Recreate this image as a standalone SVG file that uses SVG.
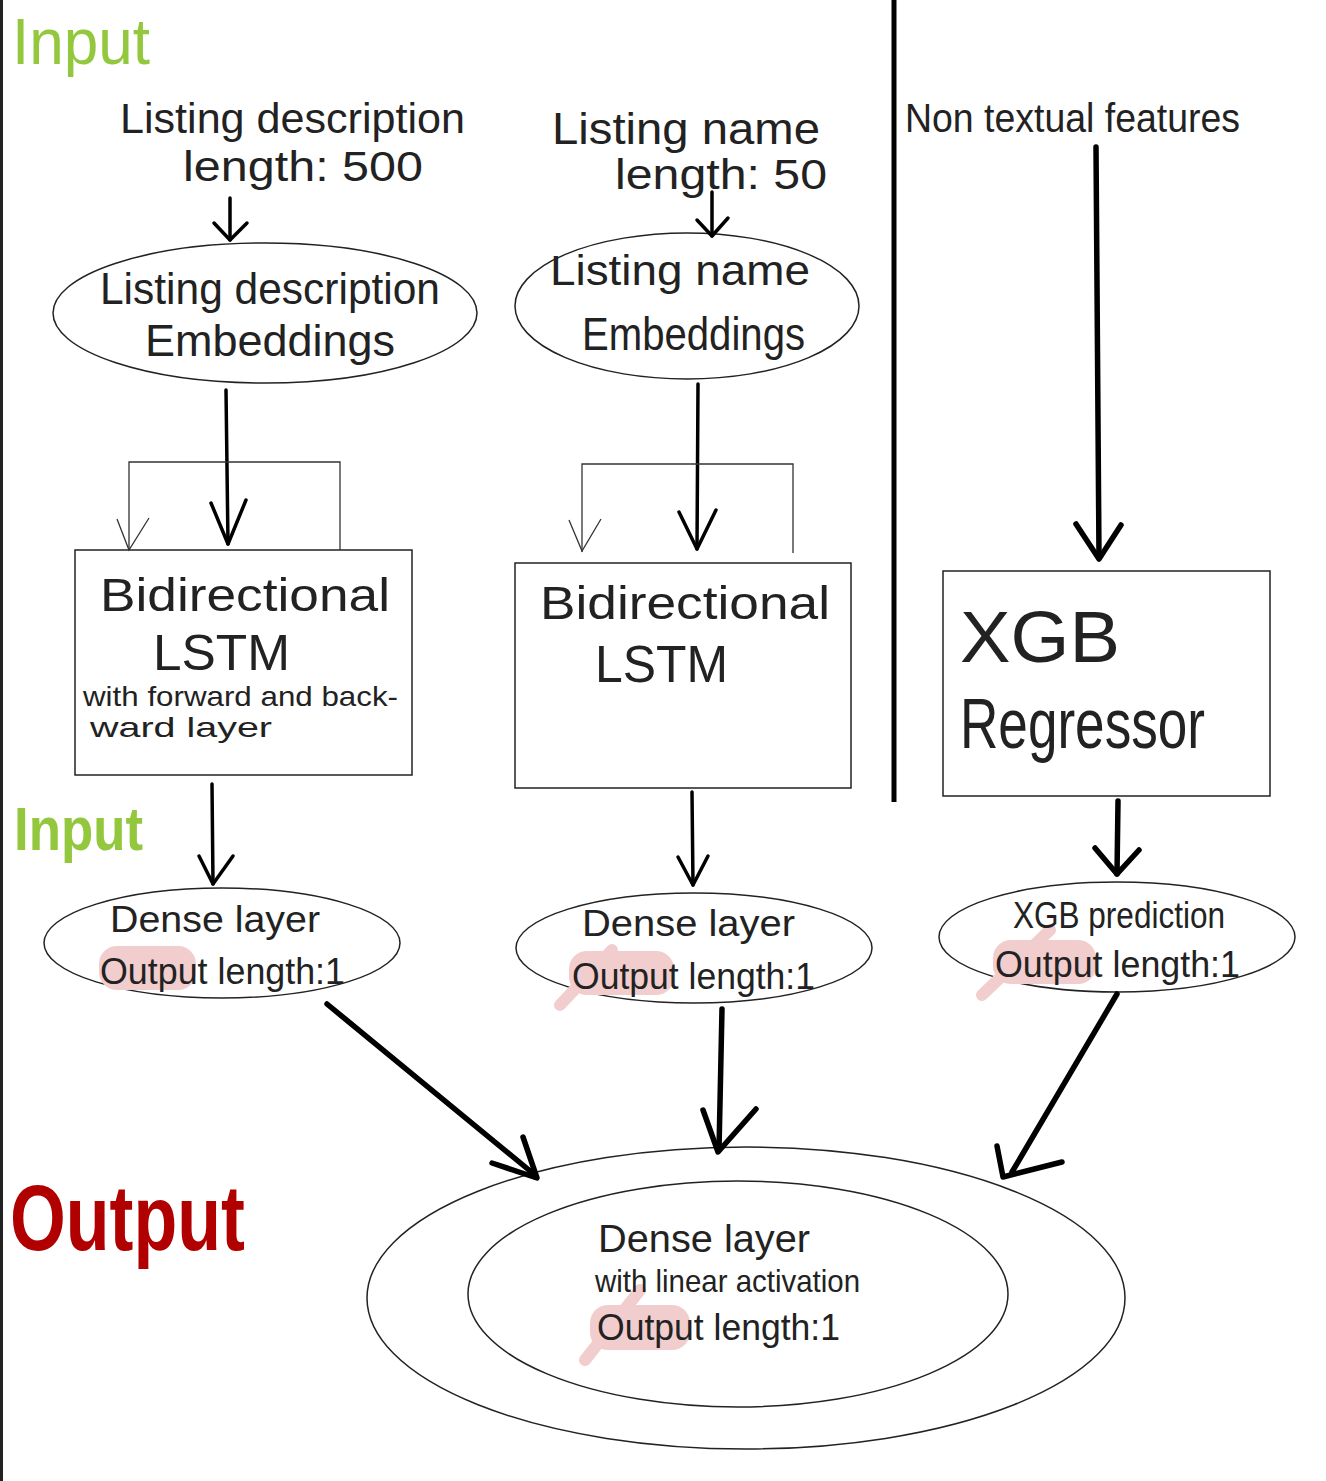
<svg xmlns="http://www.w3.org/2000/svg" width="1326" height="1481" viewBox="0 0 1326 1481">
<style>
.hw{font-family:"Liberation Sans","Noto Sans",sans-serif;fill:#222;text-anchor:start;}
.shape{fill:none;stroke:#222;stroke-width:1.5;}
.thin{fill:none;stroke:#333;stroke-width:1.3;}
.arr{fill:none;stroke:#000;stroke-width:3.5;stroke-linecap:round;stroke-linejoin:round;}
.arrb{fill:none;stroke:#000;stroke-width:5.5;stroke-linecap:round;stroke-linejoin:round;}
.pink{fill:#f2cdcd;}
.pinks{fill:none;stroke:#f2cdcd;stroke-width:12;stroke-linecap:round;}
.green{font-family:"Liberation Sans","Noto Sans",sans-serif;fill:#93c83e;}
</style>
<rect x="0" y="0" width="1326" height="1481" fill="#fff"/>
<rect x="0" y="0" width="3" height="1481" fill="#222"/>
<line x1="894" y1="0" x2="894" y2="802" stroke="#000" stroke-width="5"/>

<g id="label-input-top"><text class="green" x="12" y="64" font-size="64" textLength="138" lengthAdjust="spacingAndGlyphs">Input</text></g>
<g id="label-input-mid"><text class="green" x="14" y="850" font-size="62" font-weight="bold" textLength="129" lengthAdjust="spacingAndGlyphs">Input</text></g>
<g id="label-output"><text x="10" y="1250" font-family="Liberation Sans, sans-serif" font-size="92" font-weight="bold" fill="#b00000" textLength="235" lengthAdjust="spacingAndGlyphs">Output</text></g>

<g id="input-desc">
<text class="hw" x="120" y="133" font-size="42" textLength="345" lengthAdjust="spacingAndGlyphs">Listing description</text>
<text class="hw" x="183" y="181" font-size="42" textLength="240" lengthAdjust="spacingAndGlyphs">length: 500</text>
</g>
<g id="input-name">
<text class="hw" x="552" y="144" font-size="44" textLength="268" lengthAdjust="spacingAndGlyphs">Listing name</text>
<text class="hw" x="615" y="189" font-size="42" textLength="212" lengthAdjust="spacingAndGlyphs">length: 50</text>
</g>
<g id="input-nontext">
<text class="hw" x="905" y="132" font-size="40" textLength="335" lengthAdjust="spacingAndGlyphs">Non textual features</text>
</g>

<g id="emb-desc">
<ellipse class="shape" cx="265" cy="313" rx="212" ry="70"/>
<text class="hw" x="100" y="304" font-size="44" textLength="340" lengthAdjust="spacingAndGlyphs">Listing description</text>
<text class="hw" x="145" y="356" font-size="44" textLength="250" lengthAdjust="spacingAndGlyphs">Embeddings</text>
</g>
<g id="emb-name">
<ellipse class="shape" cx="687" cy="306" rx="172" ry="73"/>
<text class="hw" x="550" y="285" font-size="42" textLength="260" lengthAdjust="spacingAndGlyphs">Listing name</text>
<text class="hw" x="582" y="350" font-size="46" textLength="223" lengthAdjust="spacingAndGlyphs">Embeddings</text>
</g>

<g id="lstm-desc">
<rect class="shape" x="75" y="550" width="337" height="225"/>
<text class="hw" x="100" y="611" font-size="46" textLength="290" lengthAdjust="spacingAndGlyphs">Bidirectional</text>
<text class="hw" x="153" y="670" font-size="50" textLength="137" lengthAdjust="spacingAndGlyphs">LSTM</text>
<text class="hw" x="83" y="706" font-size="28" textLength="315" lengthAdjust="spacingAndGlyphs">with forward and back-</text>
<text class="hw" x="90" y="737" font-size="28" textLength="182" lengthAdjust="spacingAndGlyphs">ward layer</text>
</g>
<g id="lstm-name">
<rect class="shape" x="515" y="563" width="336" height="225"/>
<text class="hw" x="540" y="619" font-size="46" textLength="290" lengthAdjust="spacingAndGlyphs">Bidirectional</text>
<text class="hw" x="595" y="682" font-size="52" textLength="133" lengthAdjust="spacingAndGlyphs">LSTM</text>
</g>
<g id="xgb">
<rect class="shape" x="943" y="571" width="327" height="225"/>
<text class="hw" x="960" y="662" font-size="72" textLength="160" lengthAdjust="spacingAndGlyphs">XGB</text>
<text class="hw" x="960" y="748" font-size="70" textLength="245" lengthAdjust="spacingAndGlyphs">Regressor</text>
</g>

<g id="dense-desc">
<ellipse class="shape" cx="222" cy="943" rx="178" ry="55"/>
<rect class="pink" x="99" y="946" width="97" height="44" rx="18"/>
<text class="hw" x="110" y="932" font-size="36" textLength="210" lengthAdjust="spacingAndGlyphs">Dense layer</text>
<text class="hw" x="100" y="984" font-size="36" textLength="245" lengthAdjust="spacingAndGlyphs">Output length:1</text>
</g>
<g id="dense-name">
<ellipse class="shape" cx="694" cy="948" rx="178" ry="55"/>
<line class="pinks" x1="560" y1="1005" x2="612" y2="950"/>
<rect class="pink" x="569" y="951" width="105" height="44" rx="18"/>
<text class="hw" x="582" y="936" font-size="36" textLength="213" lengthAdjust="spacingAndGlyphs">Dense layer</text>
<text class="hw" x="572" y="989" font-size="36" textLength="243" lengthAdjust="spacingAndGlyphs">Output length:1</text>
</g>
<g id="xgb-pred">
<ellipse class="shape" cx="1117" cy="937" rx="178" ry="55"/>
<line class="pinks" x1="982" y1="995" x2="1050" y2="930"/>
<rect class="pink" x="993" y="940" width="103" height="44" rx="18"/>
<text class="hw" x="1013" y="928" font-size="36" textLength="212" lengthAdjust="spacingAndGlyphs">XGB prediction</text>
<text class="hw" x="995" y="977" font-size="36" textLength="245" lengthAdjust="spacingAndGlyphs">Output length:1</text>
</g>

<g id="output-layer">
<ellipse class="shape" cx="746" cy="1298" rx="379" ry="151"/>
<ellipse class="shape" cx="738" cy="1294" rx="270" ry="113"/>
<line class="pinks" x1="585" y1="1360" x2="640" y2="1290"/>
<rect class="pink" x="590" y="1305" width="100" height="45" rx="18"/>
<text class="hw" x="598" y="1252" font-size="38" textLength="212" lengthAdjust="spacingAndGlyphs">Dense layer</text>
<text class="hw" x="595" y="1292" font-size="32" textLength="265" lengthAdjust="spacingAndGlyphs">with linear activation</text>
<text class="hw" x="597" y="1340" font-size="36" textLength="243" lengthAdjust="spacingAndGlyphs">Output length:1</text>
</g>

<g id="connectors">
<line class="arr" x1="230" y1="198" x2="230" y2="240"/>
<polyline class="arr" points="214,223 230,240 247,223"/>
<line class="arr" x1="712" y1="192" x2="712" y2="236"/>
<polyline class="arr" points="697,220 712,236 728,218"/>

<line class="arr" x1="226" y1="390" x2="228" y2="544"/>
<polyline class="arr" points="211,503 228,544 246,500"/>
<polyline class="thin" points="129,550 129,462 340,462 340,550"/>
<polyline class="thin" points="117,519 129,550 149,518"/>

<line class="arr" x1="698" y1="384" x2="697" y2="549"/>
<polyline class="arr" points="679,512 697,549 716,510"/>
<polyline class="thin" points="582,552 582,464 793,464 793,553"/>
<polyline class="thin" points="569,520 582,551 601,519"/>

<line class="arrb" x1="1096" y1="147" x2="1099" y2="557"/>
<polyline class="arrb" points="1076,524 1099,559 1121,525"/>

<line class="arr" x1="212" y1="784" x2="213" y2="884"/>
<polyline class="arr" points="199,856 213,884 233,856"/>
<line class="arr" x1="692" y1="792" x2="693" y2="885"/>
<polyline class="arr" points="678,857 693,885 708,856"/>
<line class="arrb" x1="1118" y1="801" x2="1117" y2="874"/>
<polyline class="arrb" points="1095,848 1117,874 1139,850"/>

<line class="arrb" x1="327" y1="1004" x2="535" y2="1175"/>
<polyline class="arrb" points="492,1163 537,1178 523,1137"/>
<line class="arrb" x1="722" y1="1009" x2="719" y2="1150"/>
<polyline class="arrb" points="703,1110 718,1152 756,1109"/>
<line class="arrb" x1="1117" y1="994" x2="1012" y2="1172"/>
<polyline class="arrb" points="997,1146 1003,1177 1062,1162"/>
</g>
</svg>
